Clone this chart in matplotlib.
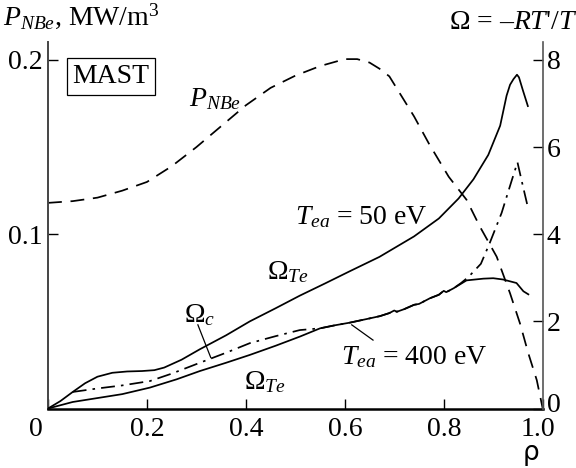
import matplotlib
matplotlib.use("Agg")
import matplotlib.pyplot as plt

plt.rcParams['font.family'] = ['Liberation Serif', 'DejaVu Serif']
plt.rcParams['mathtext.fontset'] = 'custom'
plt.rcParams['mathtext.rm'] = 'Liberation Serif'
plt.rcParams['mathtext.it'] = 'Liberation Serif:italic'
plt.rcParams['mathtext.bf'] = 'Liberation Serif:bold'

# NBI electron heating power density (left axis)
rho_p = [0.00, 0.05, 0.10, 0.15, 0.20, 0.25, 0.30, 0.35, 0.40, 0.45, 0.50, 0.55,
         0.60, 0.625, 0.65, 0.67, 0.69, 0.74, 0.77, 0.81, 0.846, 0.873, 0.907,
         0.934, 0.954, 0.971, 0.988, 1.00]
p_nbe = [0.118, 0.119, 0.121, 0.125, 0.130, 0.139, 0.150, 0.162, 0.174, 0.184,
         0.191, 0.1965, 0.2005, 0.2005, 0.1985, 0.1950, 0.1906, 0.1676, 0.152,
         0.133, 0.1198, 0.1044, 0.0871, 0.0661, 0.0489, 0.0316, 0.0163, 0.0]

# Omega_Te for T_ea = 50 eV
rho_hi = [0.0, 0.025, 0.05, 0.075, 0.10, 0.13, 0.16, 0.19, 0.215, 0.235, 0.27,
          0.307, 0.36, 0.408, 0.46, 0.509, 0.56, 0.61, 0.67, 0.74, 0.79, 0.83,
          0.86, 0.89, 0.914, 0.927, 0.934, 0.941, 0.948, 0.952, 0.96, 0.970]
om_hi = [0.0, 0.17, 0.38, 0.58, 0.73, 0.82, 0.85, 0.86, 0.88, 0.94, 1.12,
         1.36, 1.68, 2.00, 2.30, 2.59, 2.87, 3.15, 3.48, 3.95, 4.36, 4.82,
         5.26, 5.82, 6.49, 7.18, 7.43, 7.56, 7.66, 7.60, 7.30, 6.94]

# Omega_Te for T_ea = 400 eV
rho_lo = [0.0, 0.05, 0.10, 0.15, 0.206, 0.26, 0.307, 0.36, 0.408, 0.46, 0.509,
          0.55, 0.58, 0.61, 0.651, 0.671, 0.69, 0.70, 0.705, 0.72, 0.74, 0.75,
          0.772, 0.79, 0.80, 0.805, 0.82, 0.833, 0.846, 0.88, 0.90, 0.92,
          0.947, 0.961, 0.971]
om_lo = [0.0, 0.15, 0.24, 0.33, 0.48, 0.67, 0.86, 1.05, 1.23, 1.44, 1.65,
         1.84, 1.91, 1.97, 2.07, 2.12, 2.19, 2.25, 2.22, 2.28, 2.38, 2.40,
         2.53, 2.61, 2.70, 2.67, 2.76, 2.85, 2.94, 2.98, 2.99, 2.96,
         2.88, 2.69, 2.62]

# Omega_c (critical gradient)
rho_c = [0.05, 0.10, 0.15, 0.206, 0.25, 0.307, 0.36, 0.408, 0.46, 0.509, 0.55,
         0.58, 0.61, 0.651, 0.671, 0.69, 0.70, 0.705, 0.72, 0.74, 0.75, 0.772,
         0.79, 0.80, 0.805, 0.82, 0.835, 0.85, 0.875, 0.893, 0.917, 0.937,
         0.949, 0.958, 0.971]
om_c = [0.38, 0.46, 0.53, 0.63, 0.80, 1.05, 1.28, 1.50, 1.66, 1.80, 1.84,
        1.91, 1.97, 2.07, 2.12, 2.19, 2.25, 2.22, 2.28, 2.38, 2.40, 2.53,
        2.61, 2.70, 2.67, 2.76, 2.88, 3.02, 3.32, 3.80, 4.49, 5.22,
        5.65, 5.20, 4.57]

x_ticks = [0, 0.2, 0.4, 0.6, 0.8, 1.0]
x_labels = ['0', '0.2', '0.4', '0.6', '0.8', '1.0']
p_ticks = [0.1, 0.2]
p_labels = ['0.1', '0.2']
om_ticks = [0, 2, 4, 6, 8]
om_labels = ['0', '2', '4', '6', '8']

fig = plt.figure(figsize=(5.76, 4.68), dpi=100)
ax = fig.add_axes([0.0833, 0.1271, 0.8589, 0.7831])
ax2 = ax.twinx()

ax.set_xlim(0, 1.0)
ax.set_ylim(0, 0.2103)
ax2.set_ylim(0, 8.41)

lw = 1.25
ax.plot(rho_p, p_nbe, color='black', lw=lw, dashes=(8, 5))
ax2.plot(rho_hi, om_hi, color='black', lw=lw)
ax2.plot(rho_lo, om_lo, color='black', lw=lw)
ax2.plot(rho_c, om_c, color='black', lw=lw, dashes=(8, 3.5, 1.5, 3.5))

fs = 20
for a in (ax, ax2):
    a.spines['top'].set_visible(False)
    a.patch.set_visible(False)
ax.spines['left'].set_color('#444444')
ax.spines['left'].set_linewidth(1.4)
ax.spines['right'].set_visible(False)
ax.spines['bottom'].set_linewidth(1.8)
ax2.spines['left'].set_visible(False)
ax2.spines['bottom'].set_visible(False)
ax2.spines['right'].set_color('#555555')
ax2.spines['right'].set_linewidth(1.2)

# corner labels are nudged away from the axes corners
ax.set_xticks(x_ticks)
ax.set_xticklabels([''] + x_labels[1:-1] + [''])
ax.set_yticks(p_ticks)
ax.set_yticklabels(p_labels)
ax2.set_yticks(om_ticks)
ax2.set_yticklabels([''] + om_labels[1:])
ax.tick_params(axis='x', direction='in', length=7, width=1.0, pad=6, labelsize=fs)
ax.tick_params(axis='y', direction='in', length=7, width=1.0, pad=4, labelsize=fs)
ax2.tick_params(axis='y', direction='in', length=7, width=1.0, pad=3, labelsize=fs)
ax.annotate(x_labels[0], xy=(x_ticks[0], 0), xycoords=('data', 'axes fraction'),
            xytext=(-8.6, -6), textcoords='offset points', ha='center', va='top',
            fontsize=fs)
ax.annotate(x_labels[-1], xy=(x_ticks[-1], 0), xycoords=('data', 'axes fraction'),
            xytext=(-3.6, -6), textcoords='offset points', ha='center', va='top',
            fontsize=fs)
ax2.annotate(om_labels[0], xy=(1, om_ticks[0]), xycoords=('axes fraction', 'data'),
             xytext=(3, 2.5), textcoords='offset points', ha='left', va='center',
             fontsize=fs)

# axis titles
fig.text(3 / 576, 1 - 25 / 468, r'$P_{NBe}$, MW/m$^3$', fontsize=fs, ha='left', va='baseline')
fig.text(577 / 576, 1 - 29 / 468, "Ω = –$RT$'/$T$", fontsize=fs, ha='right', va='baseline')
fig.text(531 / 576, 1 - 453 / 468, 'ρ', fontsize=fs - 1, ha='center', va='center',
         family='DejaVu Sans')

# curve annotations (in rho / Omega coordinates)
ax2.text(0.127, 7.62, 'MAST', fontsize=fs, ha='center', va='center',
         bbox=dict(boxstyle='square,pad=0.2', fc='white', ec='black', lw=0.9))
ax2.text(0.338, 7.10, r'$P_{NBe}$', fontsize=fs, ha='center', va='center')
ax2.text(0.633, 4.38, r'$T_{ea}$ = 50 eV', fontsize=fs, ha='center', va='center')
ax2.text(0.485, 3.14, r'Ω$_{Te}$', fontsize=fs, ha='center', va='center')
ax2.text(0.307, 2.15, r'Ω$_{c}$', fontsize=fs, ha='center', va='center')
ax2.plot([0.303, 0.329], [1.92, 1.17], color='black', lw=0.9)
ax2.text(0.439, 0.61, r'Ω$_{Te}$', fontsize=fs, ha='center', va='center')
ax2.text(0.740, 1.18, r'$T_{ea}$ = 400 eV', fontsize=fs, ha='center', va='center')
ax2.plot([0.614, 0.657], [1.92, 1.57], color='black', lw=0.9)

fig.savefig('out.png', dpi=100)
